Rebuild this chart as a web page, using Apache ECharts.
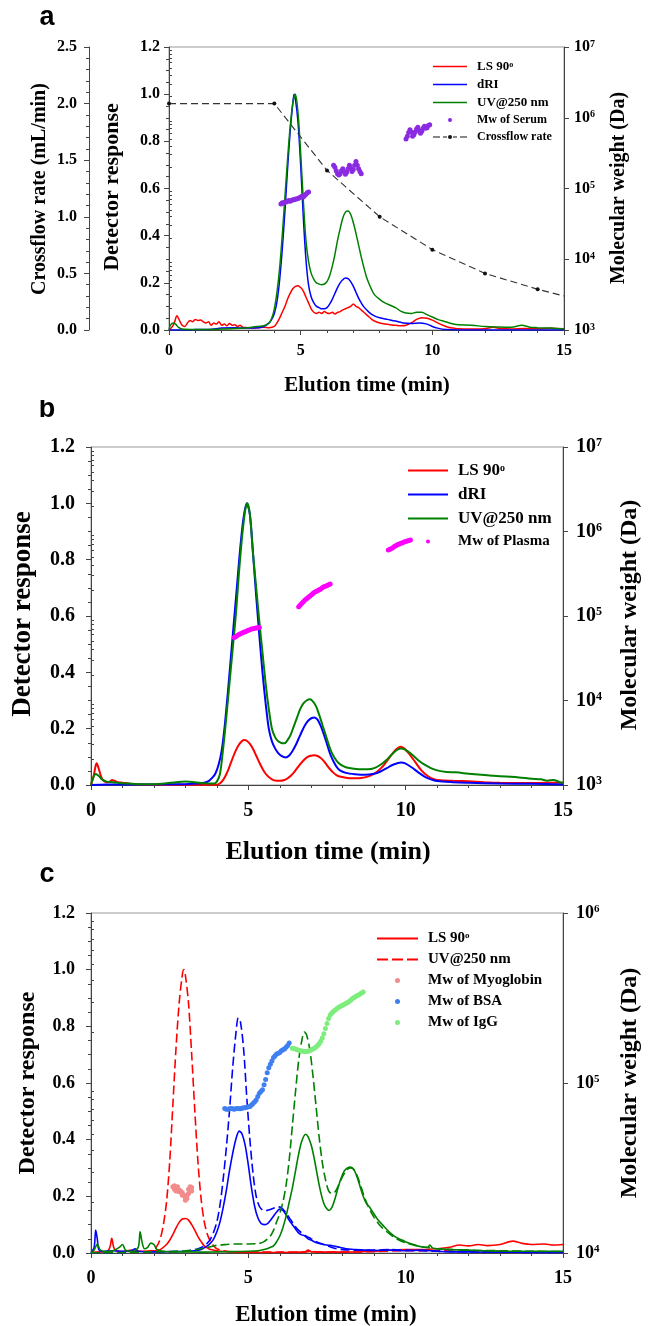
<!DOCTYPE html>
<html><head><meta charset="utf-8">
<script src="https://cdn.jsdelivr.net/npm/echarts@6.0.0/dist/echarts.min.js"></script>
<style>
html,body{margin:0;padding:0;background:#fff;width:651px;height:1326px;overflow:hidden}
#a,#b,#c{position:absolute;left:0;width:651px}
#a{top:0;height:400px}#b{top:400px;height:470px}#c{top:855px;height:471px}
</style></head>
<body><div id="a"></div><div id="b"></div><div id="c"></div>
<script>
// ---------------- DATA ----------------
// Panel a : serum
const aLS = [[0,0],[0.1,0.01],[0.2,0.03],[0.3,0.06],[0.4,0.04],[0.5,0.02],[0.6,0.015],[0.7,0.03],[0.8,0.04],[0.9,0.035],[1.0,0.045],[1.1,0.04],[1.2,0.042],[1.3,0.035],[1.4,0.03],[1.5,0.035],[1.6,0.02],[1.7,0.03],[1.8,0.025],[1.9,0.035],[2.0,0.02],[2.1,0.025],[2.2,0.018],[2.3,0.028],[2.4,0.02],[2.5,0.022],[2.6,0.015],[2.7,0.02],[2.8,0.012],[3.0,0.01],[3.2,0.008],[3.4,0.01],[3.6,0.012],[3.8,0.01],[4.0,0.015],[4.1,0.03],[4.2,0.05],[4.3,0.075],[4.4,0.1],[4.5,0.13],[4.6,0.155],[4.7,0.175],[4.8,0.185],[4.9,0.188],[5.0,0.18],[5.1,0.165],[5.2,0.14],[5.3,0.115],[5.4,0.09],[5.5,0.075],[5.6,0.07],[5.7,0.075],[5.8,0.07],[5.9,0.078],[6.0,0.072],[6.1,0.07],[6.2,0.075],[6.3,0.068],[6.4,0.075],[6.5,0.078],[6.6,0.085],[6.7,0.09],[6.8,0.095],[6.9,0.1],[7.0,0.11],[7.1,0.1],[7.2,0.095],[7.3,0.085],[7.4,0.075],[7.5,0.065],[7.6,0.055],[7.7,0.045],[7.8,0.038],[8.0,0.03],[8.2,0.025],[8.4,0.022],[8.6,0.02],[8.8,0.018],[9.0,0.02],[9.2,0.03],[9.4,0.045],[9.6,0.052],[9.8,0.05],[10.0,0.042],[10.2,0.03],[10.4,0.02],[10.6,0.012],[10.8,0.008],[11.0,0.005],[11.5,0.004],[12.0,0.005],[12.3,0.012],[12.6,0.006],[13.0,0.004],[13.5,0.006],[14.0,0.005],[14.5,0.007],[15,0.003]];
const aRI = [[0,0],[0.8,0],[1.0,0.002],[1.5,0.002],[2.0,0.008],[2.5,0.01],[3.0,0.008],[3.4,0.01],[3.6,0.015],[3.8,0.03],[3.9,0.045],[4.0,0.07],[4.1,0.12],[4.2,0.21],[4.3,0.34],[4.4,0.5],[4.5,0.68],[4.6,0.84],[4.7,0.96],[4.75,1.0],[4.8,0.98],[4.9,0.88],[5.0,0.7],[5.1,0.48],[5.2,0.3],[5.3,0.19],[5.4,0.14],[5.5,0.115],[5.6,0.1],[5.7,0.095],[5.8,0.09],[5.9,0.09],[6.0,0.095],[6.1,0.11],[6.2,0.13],[6.3,0.155],[6.4,0.18],[6.5,0.2],[6.6,0.213],[6.7,0.22],[6.8,0.218],[6.9,0.205],[7.0,0.185],[7.1,0.16],[7.2,0.135],[7.3,0.115],[7.4,0.098],[7.6,0.075],[7.8,0.06],[8.0,0.052],[8.3,0.045],[8.6,0.038],[8.9,0.03],[9.2,0.028],[9.5,0.03],[9.8,0.025],[10.0,0.015],[10.2,0.008],[10.5,0.002],[11,0],[15,0]];
const aUV = [[0,0],[0.05,0.02],[0.15,0.03],[0.25,0.025],[0.35,0.012],[0.5,0.004],[1.0,0.002],[1.5,0.002],[2.0,0.004],[2.5,0.006],[3.0,0.01],[3.4,0.015],[3.6,0.018],[3.8,0.03],[3.9,0.05],[4.0,0.09],[4.1,0.16],[4.2,0.26],[4.3,0.4],[4.4,0.56],[4.5,0.72],[4.6,0.86],[4.7,0.96],[4.8,1.0],[4.9,0.92],[5.0,0.75],[5.1,0.55],[5.2,0.38],[5.3,0.29],[5.4,0.24],[5.5,0.215],[5.6,0.2],[5.7,0.195],[5.8,0.192],[5.9,0.195],[6.0,0.205],[6.1,0.23],[6.2,0.27],[6.3,0.32],[6.4,0.38],[6.5,0.43],[6.6,0.475],[6.7,0.5],[6.8,0.505],[6.9,0.49],[7.0,0.455],[7.1,0.41],[7.2,0.36],[7.3,0.31],[7.4,0.265],[7.5,0.225],[7.6,0.195],[7.7,0.17],[7.8,0.15],[8.0,0.13],[8.2,0.115],[8.4,0.105],[8.6,0.095],[8.8,0.08],[9.0,0.072],[9.2,0.07],[9.4,0.075],[9.6,0.075],[9.8,0.065],[10.0,0.055],[10.2,0.045],[10.5,0.035],[10.8,0.025],[11.0,0.022],[11.5,0.02],[12.0,0.015],[12.5,0.013],[13.0,0.012],[13.4,0.02],[13.7,0.012],[14.0,0.01],[14.5,0.008],[15,0.005]];
const aCrossflow = [[0,2.0],[4,2.0],[6,1.41],[8,1.0],[10,0.71],[12,0.5],[14,0.36],[15,0.3]];
const aMwSerum = [[4.25,60260],[4.30,63100],[4.35,61660],[4.40,64570],[4.45,64570],[4.50,66070],[4.55,67610],[4.60,66070],[4.65,67610],[4.70,69180],[4.75,69180],[4.80,70790],[4.85,70790],[4.90,72440],[4.95,74130],[5.00,75860],[5.05,77620],[5.10,75860],[5.15,79430],[5.20,83180],[5.25,87100],[5.30,89130],
 [6.25,213800],[6.30,199500],[6.35,177800],[6.40,162200],[6.45,154900],[6.50,162200],[6.55,177800],[6.60,190500],[6.65,173800],[6.70,158500],[6.75,169800],[6.80,190500],[6.85,213800],[6.90,195000],[6.95,173800],[7.00,186200],[7.05,213800],[7.10,239900],[7.15,213800],[7.20,190500],[7.25,173800],[7.30,162200],
 [9.00,501200],[9.05,549500],[9.10,616600],[9.15,676100],[9.20,631000],[9.25,549500],[9.30,575400],[9.35,631000],[9.40,691800],[9.45,732800],[9.50,660700],[9.55,602600],[9.60,645700],[9.65,707900],[9.70,758600],[9.75,707900],[9.80,724400],[9.85,776200],[9.90,794300]];

// Panel b : plasma
const bLS = [[0,0],[0.08,0.03],[0.14,0.065],[0.18,0.077],[0.24,0.06],[0.32,0.03],[0.4,0.015],[0.5,0.01],[0.6,0.012],[0.67,0.018],[0.75,0.015],[0.85,0.01],[1.0,0.008],[1.2,0.005],[1.5,0.002],[2,0.001],[3,0.001],[4.0,0.001],[4.1,0.006],[4.2,0.018],[4.3,0.038],[4.4,0.065],[4.5,0.095],[4.6,0.122],[4.7,0.143],[4.8,0.156],[4.87,0.16],[4.95,0.157],[5.05,0.146],[5.15,0.128],[5.25,0.104],[5.35,0.08],[5.45,0.058],[5.55,0.04],[5.65,0.028],[5.75,0.02],[5.85,0.016],[6.0,0.015],[6.15,0.018],[6.25,0.024],[6.35,0.033],[6.45,0.045],[6.55,0.06],[6.65,0.074],[6.75,0.087],[6.85,0.097],[6.95,0.103],[7.1,0.106],[7.2,0.103],[7.3,0.096],[7.4,0.085],[7.5,0.07],[7.6,0.056],[7.7,0.044],[7.8,0.035],[7.9,0.03],[8.1,0.026],[8.3,0.024],[8.5,0.024],[8.7,0.027],[8.9,0.034],[9.1,0.048],[9.3,0.07],[9.5,0.1],[9.7,0.127],[9.84,0.136],[9.95,0.13],[10.1,0.112],[10.3,0.082],[10.5,0.052],[10.7,0.032],[10.9,0.021],[11.1,0.017],[11.5,0.015],[12,0.013],[12.5,0.01],[13,0.008],[14,0.007],[14.5,0.008],[15,0.008]];
const bRI = [[0,0],[0.5,0.002],[1.0,0.002],[2.0,0.002],[3.0,0.003],[3.4,0.005],[3.6,0.008],[3.75,0.015],[3.85,0.025],[3.95,0.04],[4.05,0.07],[4.15,0.12],[4.25,0.21],[4.35,0.33],[4.45,0.46],[4.55,0.59],[4.65,0.72],[4.75,0.85],[4.85,0.95],[4.95,1.0],[5.05,0.96],[5.15,0.82],[5.25,0.67],[5.35,0.53],[5.45,0.4],[5.55,0.29],[5.65,0.2],[5.75,0.155],[5.85,0.13],[5.95,0.113],[6.05,0.103],[6.19,0.098],[6.3,0.105],[6.4,0.12],[6.5,0.14],[6.6,0.165],[6.7,0.19],[6.8,0.212],[6.9,0.228],[7.0,0.237],[7.1,0.24],[7.2,0.232],[7.3,0.21],[7.4,0.18],[7.5,0.145],[7.6,0.11],[7.7,0.085],[7.8,0.065],[7.9,0.053],[8.1,0.043],[8.4,0.038],[8.7,0.036],[9.0,0.04],[9.2,0.048],[9.4,0.06],[9.6,0.072],[9.85,0.08],[10.0,0.076],[10.2,0.062],[10.4,0.045],[10.6,0.03],[10.8,0.02],[11.0,0.014],[11.5,0.01],[12,0.008],[13,0.005],[14,0.004],[15,0.002]];
const bUV = [[0,0],[0.05,0.02],[0.15,0.039],[0.25,0.032],[0.35,0.02],[0.5,0.012],[0.7,0.01],[0.9,0.007],[1.2,0.005],[1.5,0.003],[2.0,0.003],[2.4,0.006],[2.7,0.01],[3.0,0.012],[3.3,0.01],[3.6,0.006],[3.9,0.005],[4.0,0.012],[4.1,0.04],[4.2,0.13],[4.3,0.24],[4.4,0.36],[4.5,0.48],[4.6,0.6],[4.7,0.75],[4.8,0.88],[4.9,0.975],[4.97,1.0],[5.05,0.96],[5.15,0.82],[5.25,0.7],[5.35,0.58],[5.45,0.47],[5.55,0.36],[5.65,0.27],[5.75,0.2],[5.85,0.17],[5.95,0.155],[6.05,0.149],[6.15,0.148],[6.25,0.16],[6.35,0.18],[6.45,0.21],[6.55,0.24],[6.65,0.27],[6.75,0.29],[6.85,0.3],[6.96,0.304],[7.05,0.297],[7.15,0.28],[7.25,0.25],[7.35,0.215],[7.45,0.18],[7.55,0.145],[7.65,0.115],[7.75,0.095],[7.85,0.08],[8.0,0.068],[8.2,0.06],[8.5,0.056],[8.8,0.056],[9.0,0.06],[9.2,0.072],[9.4,0.09],[9.6,0.113],[9.75,0.126],[9.85,0.13],[10.0,0.125],[10.2,0.108],[10.4,0.088],[10.6,0.072],[10.8,0.06],[11.0,0.052],[11.3,0.046],[11.6,0.045],[12.0,0.04],[12.4,0.036],[12.8,0.033],[13.2,0.03],[13.6,0.027],[14.0,0.022],[14.3,0.02],[14.5,0.015],[14.7,0.018],[14.9,0.01],[15,0.008]];
const bMwPlasma = [[4.55,55590],[4.6,56900],[4.65,58610],[4.7,60260],[4.75,61660],[4.8,63100],[4.85,64270],[4.9,65310],[4.95,66530],[5.0,67610],[5.05,68870],[5.1,69980],[5.15,70790],[5.2,71610],[5.25,72280],[5.3,72780],[5.35,73280],
 [6.6,128800],[6.65,134900],[6.7,141300],[6.75,147900],[6.8,154900],[6.85,160300],[6.9,166000],[6.95,171800],[7.0,177800],[7.05,184100],[7.1,190500],[7.15,195000],[7.2,199500],[7.25,204200],[7.3,208900],[7.35,215300],[7.4,221300],[7.45,225400],[7.5,229100],[7.55,234400],[7.6,239900],
 [9.45,602600],[9.5,616600],[9.55,631000],[9.6,648600],[9.65,668300],[9.7,683900],[9.75,699800],[9.8,712900],[9.85,724400],[9.9,737900],[9.95,749900],[10.0,762100],[10.05,772700],[10.1,783400],[10.15,794300]];

// Panel c : standards
const cLSMyo = [[0,0],[0.2,0.003],[0.5,0.005],[0.6,0.02],[0.66,0.052],[0.72,0.02],[0.8,0.008],[1.0,0.005],[1.3,0.01],[1.6,0.006],[2.0,0.008],[2.2,0.012],[2.4,0.03],[2.5,0.045],[2.6,0.065],[2.7,0.088],[2.8,0.108],[2.9,0.12],[3.0,0.122],[3.1,0.116],[3.2,0.1],[3.3,0.08],[3.4,0.058],[3.5,0.04],[3.6,0.025],[3.7,0.018],[3.8,0.012],[4.0,0.008],[4.3,0.005],[4.6,0.003],[5,0.002],[6,0.002],[6.8,0.004],[6.9,0.01],[7.0,0.004],[8,0.003],[9,0.006],[10,0.012],[10.5,0.012],[11,0.015],[11.4,0.02],[11.7,0.028],[12.0,0.025],[12.3,0.03],[12.6,0.026],[13.0,0.03],[13.4,0.042],[13.7,0.034],[14.0,0.03],[14.4,0.032],[14.7,0.028],[15,0.03]];
const cUVMyo = [[0,0.002],[0.5,0.003],[1.0,0.004],[1.5,0.005],[1.8,0.006],[2.0,0.012],[2.1,0.025],[2.2,0.05],[2.3,0.1],[2.4,0.18],[2.5,0.32],[2.6,0.52],[2.7,0.72],[2.8,0.88],[2.9,0.98],[2.95,1.0],[3.0,0.98],[3.1,0.88],[3.2,0.7],[3.3,0.5],[3.4,0.32],[3.5,0.19],[3.6,0.11],[3.7,0.065],[3.8,0.04],[3.9,0.025],[4.0,0.015],[4.2,0.008],[4.5,0.004],[5,0.003],[6,0.003],[6.8,0.003],[7.0,0.008],[7.2,0.003],[8,0.003],[9,0.005],[10,0.008],[11,0.008],[12,0.006],[13,0.005],[14,0.004],[15,0.004]];
const cLSBSA = [[0,0],[0.1,0.02],[0.15,0.081],[0.2,0.05],[0.25,0.012],[0.4,0.005],[0.7,0.008],[1.0,0.006],[1.3,0.008],[1.4,0.015],[1.5,0.006],[2.0,0.004],[2.5,0.005],[3.0,0.006],[3.3,0.008],[3.5,0.012],[3.7,0.025],[3.8,0.035],[3.9,0.05],[4.0,0.075],[4.1,0.11],[4.2,0.16],[4.3,0.22],[4.4,0.29],[4.5,0.35],[4.6,0.4],[4.71,0.43],[4.8,0.42],[4.9,0.38],[5.0,0.31],[5.1,0.23],[5.2,0.165],[5.3,0.125],[5.4,0.105],[5.5,0.1],[5.6,0.103],[5.7,0.115],[5.8,0.13],[5.9,0.145],[6.0,0.155],[6.1,0.15],[6.2,0.135],[6.3,0.115],[6.4,0.1],[6.5,0.085],[6.6,0.07],[6.7,0.064],[6.8,0.06],[6.9,0.05],[7.0,0.045],[7.2,0.035],[7.35,0.031],[7.5,0.028],[7.7,0.025],[7.9,0.02],[8.1,0.015],[8.4,0.012],[8.7,0.01],[9,0.009],[9.5,0.01],[10,0.008],[10.5,0.01],[11,0.006],[11.5,0.004],[12,0.004],[12.5,0.003],[13,0.003],[14,0.002],[15,0.002]];
const cUVBSA = [[0,0],[1,0.002],[2,0.004],[3,0.006],[3.2,0.01],[3.4,0.015],[3.6,0.025],[3.7,0.035],[3.8,0.05],[3.9,0.075],[4.0,0.11],[4.1,0.17],[4.2,0.26],[4.3,0.37],[4.4,0.5],[4.5,0.65],[4.6,0.77],[4.68,0.83],[4.75,0.815],[4.85,0.72],[4.95,0.55],[5.05,0.4],[5.15,0.28],[5.25,0.2],[5.35,0.165],[5.45,0.152],[5.55,0.15],[5.65,0.152],[5.75,0.156],[5.85,0.16],[5.95,0.163],[6.05,0.16],[6.15,0.148],[6.3,0.125],[6.45,0.1],[6.6,0.08],[6.8,0.062],[7.0,0.05],[7.2,0.038],[7.4,0.03],[7.6,0.022],[7.8,0.015],[8.0,0.012],[8.5,0.01],[9,0.01],[9.5,0.012],[10,0.01],[10.5,0.008],[11,0.006],[12,0.004],[13,0.003],[14,0.002],[15,0.002]];
const cLSIgG = [[0,0],[0.1,0.01],[0.2,0.032],[0.3,0.01],[0.5,0.005],[0.7,0.008],[0.9,0.02],[1.0,0.03],[1.1,0.01],[1.3,0.005],[1.5,0.02],[1.56,0.075],[1.62,0.04],[1.7,0.015],[1.8,0.02],[1.9,0.035],[2.0,0.03],[2.1,0.012],[2.3,0.006],[2.6,0.004],[3.0,0.004],[3.5,0.003],[4.0,0.004],[4.5,0.005],[5.0,0.006],[5.3,0.008],[5.5,0.012],[5.7,0.02],[5.8,0.025],[5.9,0.04],[6.0,0.06],[6.1,0.09],[6.2,0.13],[6.3,0.18],[6.4,0.23],[6.5,0.29],[6.6,0.35],[6.7,0.395],[6.82,0.419],[6.9,0.41],[7.0,0.38],[7.1,0.33],[7.2,0.27],[7.3,0.215],[7.4,0.175],[7.5,0.155],[7.57,0.15],[7.65,0.16],[7.75,0.19],[7.85,0.23],[7.95,0.265],[8.05,0.29],[8.15,0.3],[8.25,0.303],[8.35,0.295],[8.45,0.27],[8.55,0.235],[8.65,0.2],[8.75,0.175],[8.85,0.162],[8.95,0.145],[9.1,0.12],[9.3,0.095],[9.5,0.072],[9.7,0.055],[9.9,0.045],[10.1,0.035],[10.3,0.028],[10.5,0.022],[10.7,0.02],[10.77,0.028],[10.85,0.018],[11.0,0.015],[11.5,0.012],[12.0,0.01],[12.5,0.008],[13,0.007],[14,0.006],[15,0.006]];
const cUVIgG = [[0,0],[1,0.002],[2,0.004],[3,0.008],[3.5,0.015],[3.8,0.022],[4.0,0.027],[4.3,0.03],[4.6,0.032],[5.0,0.032],[5.3,0.033],[5.5,0.04],[5.7,0.06],[5.8,0.08],[5.9,0.11],[6.0,0.14],[6.1,0.18],[6.2,0.24],[6.3,0.33],[6.4,0.45],[6.5,0.57],[6.6,0.68],[6.7,0.75],[6.78,0.78],[6.85,0.77],[6.95,0.72],[7.05,0.63],[7.15,0.52],[7.25,0.41],[7.35,0.32],[7.45,0.26],[7.55,0.22],[7.65,0.21],[7.75,0.215],[7.85,0.235],[7.95,0.26],[8.05,0.28],[8.15,0.295],[8.25,0.3],[8.35,0.295],[8.45,0.275],[8.55,0.245],[8.65,0.21],[8.75,0.18],[8.85,0.155],[9.0,0.125],[9.2,0.095],[9.4,0.075],[9.6,0.058],[9.8,0.045],[10.0,0.036],[10.3,0.027],[10.6,0.02],[11.0,0.015],[11.5,0.012],[12,0.01],[13,0.008],[14,0.006],[15,0.005]];
const cMwMyo = [[2.6,24550],[2.65,24830],[2.7,24270],[2.75,23990],[2.8,23440],[2.85,23170],[2.9,22650],[2.95,21880],[3.0,21130],[3.05,21880],[3.1,23710],[3.15,24550],[3.2,24270],[2.7,23170],[2.8,22910],[2.9,21880],[3.0,20420],[3.05,20890],[3.1,22390],[3.2,23170],[2.65,23710],[2.75,24550]];
const cMwBSA = [[4.25,70790],[4.3,69980],[4.35,69980],[4.4,70470],[4.45,70790],[4.5,70470],[4.55,69980],[4.6,70470],[4.65,70790],[4.7,70470],[4.75,70470],[4.8,71120],[4.85,71610],[4.9,71610],[4.95,72110],[5.0,72440],[5.05,72780],[5.1,74130],[5.15,75860],[5.2,77620],[5.25,79430],[5.3,83180],[5.35,87100],[5.4,89130],[5.45,91200],[5.5,97720],[5.55,104700],[5.6,114800],[5.65,123000],[5.7,128800],[5.75,134900],[5.8,141300],[5.85,144500],[5.9,147900],[5.95,149600],[6.0,151400],[6.05,154900],[6.1,156700],[6.15,158500],[6.2,162200],[6.25,166000],[6.3,171800]];
const cMwIgG = [[6.4,160300],[6.45,159400],[6.5,158500],[6.55,157000],[6.6,155600],[6.65,154900],[6.7,154200],[6.75,153500],[6.8,152800],[6.85,153100],[6.9,153500],[6.95,155000],[7.0,156700],[7.05,158500],[7.1,160300],[7.15,163000],[7.2,166000],[7.25,170000],[7.3,175800],[7.35,184000],[7.4,195000],[7.45,209000],[7.5,223900],[7.55,239900],[7.6,251200],[7.65,257000],[7.7,263000],[7.75,267500],[7.8,272300],[7.85,276700],[7.9,281200],[7.95,284000],[8.0,287100],[8.05,290400],[8.1,293800],[8.15,297800],[8.2,302000],[8.25,307200],[8.3,312600],[8.35,317400],[8.4,322100],[8.45,325800],[8.5,329600],[8.55,334200],[8.6,338800],[8.65,342700]];

// axis tick values
const xTickLabels = [0, 5, 10, 15];
const minorA = [2e3,3e3,4e3,5e3,6e3,7e3,8e3,9e3,2e4,3e4,4e4,5e4,6e4,7e4,8e4,9e4,2e5,3e5,4e5,5e5,6e5,7e5,8e5,9e5,2e6,3e6,4e6,5e6,6e6,7e6,8e6,9e6];
const minorC = [2e4,3e4,4e4,5e4,6e4,7e4,8e4,9e4,2e5,3e5,4e5,5e5,6e5,7e5,8e5,9e5];

// ---------------- HELPERS ----------------
const SERIF = "'Liberation Serif','Times New Roman',serif";
const SANS = "'Liberation Sans',Arial,sans-serif";
const AX = '#444', FRAME = '#999';
const RED = '#ff0000', BLUE = '#0000ff', GREEN = '#008000';

function bt(size, extra) { return Object.assign({fontFamily: SERIF, fontWeight: 'bold', fontSize: size, color: '#000'}, extra || {}); }
function xAxisDef(size, margin) {
  return {type: 'value', min: 0, max: 15, interval: 5,
    axisLine: {show: true, onZero: false, lineStyle: {color: AX, width: 1}},
    axisTick: {show: true, length: 5, lineStyle: {color: AX}},
    minorTick: {show: true, splitNumber: 5, length: 3, lineStyle: {color: AX}},
    splitLine: {show: false}, minorSplitLine: {show: false},
    axisLabel: bt(size, {margin: margin, formatter: v => xTickLabels.indexOf(v) >= 0 ? String(v) : ''})};
}
function valAxis(max, interval, size, margin, split, offset) {
  return {type: 'value', min: 0, max: max, interval: interval, position: 'left', offset: offset || 0,
    axisLine: {show: true, onZero: false, lineStyle: {color: AX, width: 1}},
    axisTick: {show: true, length: 5, lineStyle: {color: AX}},
    minorTick: {show: true, splitNumber: split, length: 3, lineStyle: {color: AX}},
    splitLine: {show: false}, minorSplitLine: {show: false},
    axisLabel: bt(size, {margin: margin, formatter: v => v.toFixed(1)})};
}
function logAxis(min, max, size, margin) {
  const sup = Math.round(size * 0.62);
  return {type: 'log', logBase: 10, min: min, max: max, position: 'right',
    axisLine: {show: true, onZero: false, lineStyle: {color: AX, width: 1}},
    axisTick: {show: true, length: 5, lineStyle: {color: AX}},
    splitLine: {show: false},
    axisLabel: {margin: margin,
      formatter: v => '{b|10}{s|' + Math.round(Math.log10(v)) + '}',
      rich: {b: bt(size, {lineHeight: size, verticalAlign: 'bottom'}), s: bt(sup, {lineHeight: size, verticalAlign: 'top'})}}};
}
function logMinor(min, max, values) {
  return {type: 'log', logBase: 10, min: min, max: max, position: 'right',
    axisLine: {show: false}, axisLabel: {show: false}, splitLine: {show: false},
    axisTick: {show: true, length: 3, customValues: values, lineStyle: {color: AX}}};
}
function curve(name, data, color, width, yi, dash, z) {
  return {type: 'line', name: name, data: data, yAxisIndex: yi || 0, symbol: 'none', smooth: 0.3,
    lineStyle: {color: color, width: width, type: dash || 'solid'}, itemStyle: {color: color},
    silent: true, z: z || 2, animation: false};
}
function dots(name, data, color, size, yi) {
  return {type: 'scatter', name: name, data: data, yAxisIndex: yi, symbol: 'circle', symbolSize: size,
    itemStyle: {color: color, opacity: 1}, silent: true, z: 6, animation: false};
}
function title(text, x, y, size, vertical) {
  return {type: 'text', x: x, y: y, rotation: vertical ? Math.PI / 2 : 0, silent: true,
    style: {text: text, fontFamily: SERIF, fontWeight: 'bold', fontSize: size, fill: '#000',
      align: 'center', verticalAlign: 'middle', textAlign: 'center', textVerticalAlign: 'middle'}};
}
function panelLabel(text, x, y) {
  return {type: 'text', x: x, y: y, silent: true,
    style: {text: text, fontFamily: SANS, fontWeight: 'bold', fontSize: 27, fill: '#000',
      align: 'center', verticalAlign: 'middle', textAlign: 'center', textVerticalAlign: 'middle'}};
}
// legend icons (box w x h; invisible corner moves fix the box)
function dotIcon(w, h, r) {
  const cx = w / 2, cy = h / 2;
  return 'path://M0,0M' + w + ',' + h + 'M' + (cx - r) + ',' + cy + 'a' + r + ',' + r + ' 0 1,0 ' + (2 * r) + ',0a' + r + ',' + r + ' 0 1,0 ' + (-2 * r) + ',0';
}
function lineIcon(w, h, t) {
  return 'path://M0,0M' + w + ',' + h + 'M0,' + (h / 2 - t / 2) + 'h' + w + 'v' + t + 'h-' + w + 'z';
}
function dashIcon(w, h, t, segs) {
  let p = 'path://M0,0M' + w + ',' + h;
  segs.forEach(s => { p += 'M' + s[0] + ',' + (h / 2 - t / 2) + 'h' + (s[1] - s[0]) + 'v' + t + 'h-' + (s[1] - s[0]) + 'z'; });
  return p;
}
function legendFmt(smallNames) {
  return n => {
    if (n === 'LS 90°') return '{t|LS 90}{s|o}';
    if (smallNames.indexOf(n) >= 0) return '{m|' + n + '}';
    return '{t|' + n + '}';
  };
}

// ---------------- PANEL A ----------------
const chartA = echarts.init(document.getElementById('a'));
const crossIcon = 'path://M0,0M34,12M0,5.4h7v1.2h-7zM10,5.4h4v1.2h-4zM20,5.4h4v1.2h-4zM27,5.4h7v1.2h-7zM15,6a2,2 0 1,0 4,0a2,2 0 1,0 -4,0';
chartA.setOption({
  animation: false,
  grid: {left: 169, top: 47, width: 395, height: 283, show: true, borderColor: FRAME, borderWidth: 1},
  xAxis: xAxisDef(16, 13),
  yAxis: [valAxis(1.2, 0.2, 16, 9, 4), valAxis(2.5, 0.5, 16, 12, 5, 80), logAxis(1e3, 1e7, 16, 10), logMinor(1e3, 1e7, minorA)],
  legend: {orient: 'vertical', left: 433, top: 60, padding: 0, itemWidth: 34, itemHeight: 12, itemGap: 5, selectedMode: false,
    itemStyle: {borderWidth: 0},
    textStyle: {padding: [0, 0, 0, 5], rich: {t: bt(13, {lineHeight: 12}), m: bt(12, {lineHeight: 12}), s: bt(8, {lineHeight: 12, verticalAlign: 'top'})}},
    formatter: legendFmt(['Mw of Serum', 'Crossflow rate']),
    data: [{name: 'LS 90°', icon: lineIcon(34, 12, 1.6)}, {name: 'dRI', icon: lineIcon(34, 12, 1.6)}, {name: 'UV@250 nm', icon: lineIcon(34, 12, 1.6)},
      {name: 'Mw of Serum', icon: dotIcon(34, 12, 2)}, {name: 'Crossflow rate', icon: crossIcon}]},
  graphic: [panelLabel('a', 47, 18),
    title('Crossflow rate (mL/min)', 40, 189, 20, true),
    title('Detector response', 112, 187, 22, true),
    title('Molecular weight (Da)', 619, 188, 20, true),
    title('Elution time (min)', 367, 386, 21, false)],
  series: [
    curve('LS 90°', aLS, RED, 1.5, 0, null, 2),
    curve('dRI', aRI, BLUE, 1.5, 0, null, 3),
    curve('UV@250 nm', aUV, GREEN, 1.5, 0, null, 4),
    {type: 'line', name: 'Crossflow rate', yAxisIndex: 1, data: aCrossflow.map((p, i) => i === aCrossflow.length - 1 ? {value: p, symbol: 'none'} : p),
      symbol: 'circle', symbolSize: 4, showSymbol: true, lineStyle: {color: '#333', width: 1.1, type: [7, 4]}, itemStyle: {color: '#111'}, z: 5, silent: true},
    dots('Mw of Serum', aMwSerum, '#8a2be2', 5, 2)
  ]
});

// ---------------- PANEL B ----------------
const chartB = echarts.init(document.getElementById('b'));
chartB.setOption({
  animation: false,
  grid: {left: 91, top: 47, width: 472, height: 338, show: true, borderColor: FRAME, borderWidth: 1},
  xAxis: xAxisDef(20, 16),
  yAxis: [valAxis(1.2, 0.2, 20, 16, 4), logAxis(1e3, 1e7, 20, 13), logMinor(1e3, 1e7, minorA)],
  legend: {orient: 'vertical', left: 408, top: 62, padding: 0, itemWidth: 40, itemHeight: 14, itemGap: 7, selectedMode: false,
    itemStyle: {borderWidth: 0},
    textStyle: {padding: [0, 0, 0, 5], rich: {t: bt(17, {lineHeight: 14}), m: bt(15, {lineHeight: 14}), s: bt(10, {lineHeight: 14, verticalAlign: 'top'})}},
    formatter: legendFmt(['Mw of Plasma']),
    data: [{name: 'LS 90°', icon: lineIcon(40, 14, 2)}, {name: 'dRI', icon: lineIcon(40, 14, 2)}, {name: 'UV@250 nm', icon: lineIcon(40, 14, 2)},
      {name: 'Mw of Plasma', icon: dotIcon(40, 14, 2)}]},
  graphic: [panelLabel('b', 47, 10),
    title('Detector response', 23, 214, 27, true),
    title('Molecular weight (Da)', 630, 215, 24, true),
    title('Elution time (min)', 328, 452, 26, false)],
  series: [
    curve('LS 90°', bLS, RED, 2, 0, null, 2),
    curve('dRI', bRI, BLUE, 2, 0, null, 3),
    curve('UV@250 nm', bUV, GREEN, 2, 0, null, 4),
    dots('Mw of Plasma', bMwPlasma, '#ff00ff', 5, 1)
  ]
});

// ---------------- PANEL C ----------------
const chartC = echarts.init(document.getElementById('c'));
chartC.setOption({
  animation: false,
  grid: {left: 91, top: 58, width: 472, height: 340, show: true, borderColor: FRAME, borderWidth: 1},
  xAxis: xAxisDef(18, 16),
  yAxis: [valAxis(1.2, 0.2, 18, 16, 4), logAxis(1e4, 1e6, 18, 13), logMinor(1e4, 1e6, minorC)],
  legend: {orient: 'vertical', left: 377, top: 76, padding: 0, itemWidth: 41, itemHeight: 14, itemGap: 6, selectedMode: false,
    itemStyle: {borderWidth: 0},
    textStyle: {padding: [0, 0, 0, 5], rich: {t: bt(15, {lineHeight: 14}), m: bt(15, {lineHeight: 14}), s: bt(9, {lineHeight: 14, verticalAlign: 'top'})}},
    formatter: legendFmt([]),
    data: [{name: 'LS 90°', icon: lineIcon(41, 14, 1.8)}, {name: 'UV@250 nm', icon: dashIcon(41, 14, 1.8, [[0, 11], [15, 26], [30, 41]])},
      {name: 'Mw of Myoglobin', icon: dotIcon(41, 14, 2.5)}, {name: 'Mw of BSA', icon: dotIcon(41, 14, 2.5)}, {name: 'Mw of IgG', icon: dotIcon(41, 14, 2.5)}]},
  graphic: [panelLabel('c', 47, 20),
    title('Detector response', 28, 228, 24, true),
    title('Molecular weight (Da)', 630, 228, 24, true),
    title('Elution time (min)', 326, 460, 23, false)],
  series: [
    curve('LS 90°', cLSMyo, RED, 1.6, 0, null, 2),
    curve('UV@250 nm', cUVMyo, RED, 1.6, 0, [9, 4], 2),
    curve('BSA LS', cLSBSA, BLUE, 1.6, 0, null, 3),
    curve('BSA UV', cUVBSA, BLUE, 1.6, 0, [9, 4], 3),
    curve('IgG LS', cLSIgG, GREEN, 1.6, 0, null, 4),
    curve('IgG UV', cUVIgG, GREEN, 1.6, 0, [9, 4], 4),
    dots('Mw of Myoglobin', cMwMyo, '#f28c8c', 5, 1),
    dots('Mw of BSA', cMwBSA, '#3f7ff0', 5, 1),
    dots('Mw of IgG', cMwIgG, '#7ded7d', 5, 1)
  ]
});
</script></body></html>
